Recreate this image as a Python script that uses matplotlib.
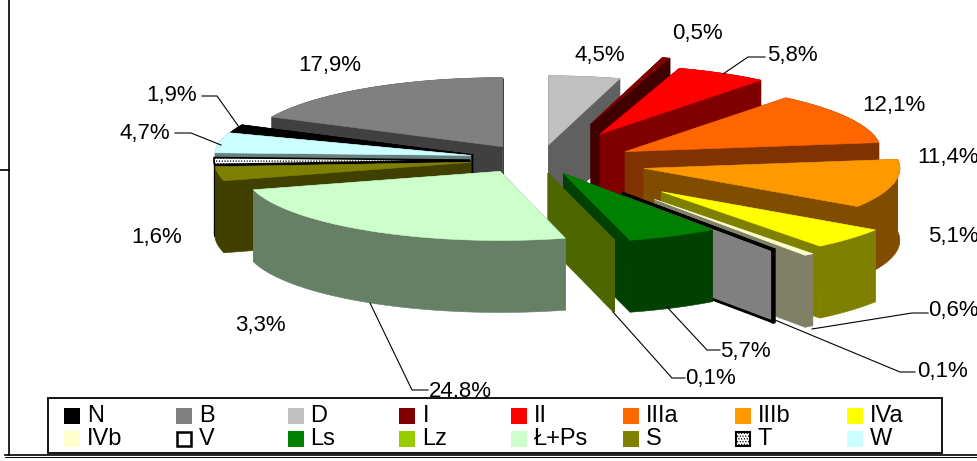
import numpy as np
import matplotlib
matplotlib.use("Agg")
import matplotlib.pyplot as plt
from matplotlib.patches import Polygon, Rectangle

plt.rcParams['font.family'] = ['Liberation Sans', 'DejaVu Sans']
plt.rcParams['hatch.linewidth'] = 0.6

# Data
names = ["N", "B", "D", "I", "II", "IIIa", "IIIb", "IVa",
         "IVb", "V", "Ls", "Lz", "Ł+Ps", "S", "T", "W"]
values = [1.9, 17.9, 4.5, 0.5, 5.8, 12.1, 11.4, 5.1,
          0.6, 0.1, 5.7, 0.1, 24.8, 3.3, 1.6, 4.7]

# Colours of the top and of the sides
top_colors = ["#000000", "#808080", "#C0C0C0", "#800000", "#FF0000", "#FF6600", "#FF9900", "#FFFF00",
              "#FFFFCC", "#FFFFFF", "#008000", "#99CC00", "#CCFFCC", "#808000", "#FFFFFF", "#CCFFFF"]
side_colors = ["#000000", "#404040", "#606060", "#400000", "#800000", "#803300", "#804D00", "#808000",
               "#808066", "#808080", "#004000", "#4D6600", "#668066", "#404000", "#000000", "#668080"]

# How far each slice is pulled out of the pie, px, plus a small correction
explode = [53, 36, 60, 190, 160, 116, 122, 190, 220, 177, 80, 85, 40, 52, 52, 52]
nudge_x = [0, 0, 18, 13, 2, 2, 3, 0, 0, -2, 7, 4, -2, 0, 0, 0]
nudge_y = [0, -5, 1, 13, 12, 7, 1, -3, -8, -5, -6, -9, 2, 0, 0, -2]

# Pie geometry (px)
cx, cy = 522, 160
radius = 256
squash = 0.27
depth = 72
first_angle = -sum(values[:2]) * 3.6

# back to front
draw_order = ["B", "N", "W", "T", "S", "D", "I", "II", "IIIa", "IIIb",
              "IVa", "IVb", "V", "Ls", "Lz", "Ł+Ps"]

# Data labels: text, centre of text, leader line
label_text = ["1,9%", "17,9%", "4,5%", "0,5%", "5,8%", "12,1%", "11,4%", "5,1%",
              "0,6%", "0,1%", "5,7%", "0,1%", "24,8%", "3,3%", "1,6%", "4,7%"]
label_x = [172, 330, 600, 697, 792, 894, 948, 953, 953, 942, 745, 710, 460, 260, 157, 145]
label_y = [95, 66, 56, 33, 56, 105, 157, 236, 310, 371, 351, 378, 391, 325, 237, 133]
leaders = [
    [(202, 96), (217, 96), (239, 127)],
    [(723, 74), (748, 57), (765, 57)],
    [(812, 329), (912, 313), (928, 313)],
    [(775, 320), (900, 372), (915, 372)],
    [(667, 307), (707, 350), (720, 350)],
    [(613, 312), (672, 378), (685, 378)],
    [(370, 303), (412, 390), (428, 390)],
    [(221, 145), (191, 133), (175, 133)],
]

fig = plt.figure(figsize=(9.78, 4.61), dpi=100)
ax = fig.add_axes([0, 0, 1, 1])
ax.set_xlim(0, 978)
ax.set_ylim(461, 0)
ax.axis('off')

# Outer chart frame
ax.plot([9, 9], [0, 455], color="black", lw=1.2, zorder=1)
ax.plot([5, 978], [455, 455], color="black", lw=1.2, zorder=1)
ax.plot([5, 978], [457, 457], color="black", lw=0.7, zorder=1)
ax.plot([0, 9], [170, 170], color="black", lw=1.2, zorder=1)


def point(t, dx, dy):
    a = np.radians(t)
    return cx + dx + radius * np.sin(a), cy + dy - radius * squash * np.cos(a)


def draw_slice(i, zorder):
    start = first_angle + sum(values[:i]) * 3.6
    end = start + values[i] * 3.6
    mid = np.radians((start + end) / 2)
    dx = explode[i] * np.sin(mid) + nudge_x[i]
    dy = -explode[i] * squash * np.cos(mid) + nudge_y[i]
    angles = np.linspace(start, end, 40)
    xs, ys = point(angles, dx, dy)
    ax_, ay_ = cx + dx, cy + dy
    top = list(zip(xs, ys)) + [(ax_, ay_)]

    # sides: outer arc and the two cut faces
    outer = list(zip(xs, ys)) + list(zip(xs[::-1], ys[::-1] + depth))
    cut1 = [(ax_, ay_), (xs[0], ys[0]), (xs[0], ys[0] + depth), (ax_, ay_ + depth)]
    cut2 = [(ax_, ay_), (xs[-1], ys[-1]), (xs[-1], ys[-1] + depth), (ax_, ay_ + depth)]
    for side in (cut1, cut2, outer):
        edge = "black" if names[i] == "V" else side_colors[i]
        lw = 2 if names[i] == "V" else 0.4
        ax.add_patch(Polygon(side, closed=True, facecolor=side_colors[i],
                             edgecolor=edge, lw=lw, zorder=zorder))

    if names[i] == "T":
        ax.add_patch(Polygon(top, closed=True, facecolor="white", edgecolor="black",
                             hatch="......", lw=1.2, zorder=zorder + 0.5))
    elif names[i] == "V":
        ax.add_patch(Polygon(top, closed=True, facecolor="white", edgecolor="black",
                             lw=2, zorder=zorder + 0.5))
    else:
        # the Lz sliver is too thin to show its own colour
        col = side_colors[i] if names[i] == "Lz" else top_colors[i]
        ax.add_patch(Polygon(top, closed=True, facecolor=col,
                             edgecolor=col, lw=0.4, zorder=zorder + 0.5))


for n, name in enumerate(draw_order):
    draw_slice(names.index(name), 2 + n)

# Labels
for line in leaders:
    ax.plot([p[0] for p in line], [p[1] for p in line], color="black", lw=0.8, zorder=30)
for t, x, y in zip(label_text, label_x, label_y):
    ax.text(x, y, t, fontsize=16, ha="center", va="center", zorder=31, clip_on=True)

# Legend
ax.add_patch(Rectangle((48, 398), 894, 55, facecolor="white", edgecolor="black", lw=1.3, zorder=40))
for i, name in enumerate(names):
    col = i % 8
    row = i // 8
    x = 64 + col * 111.8
    y = 416 + row * 23
    if name == "T":
        ax.add_patch(Rectangle((x + 1, y - 7), 14, 14, facecolor="white", edgecolor="black",
                               hatch="......", lw=1.5, zorder=41))
    elif name == "V":
        ax.add_patch(Rectangle((x + 1, y - 7), 14, 14, facecolor="white", edgecolor="black",
                               lw=1.8, zorder=41))
    else:
        ax.add_patch(Rectangle((x, y - 8), 16, 16, facecolor=top_colors[i], edgecolor="none", zorder=41))
    ax.text(x + 23, y, name, fontsize=17, ha="left", va="center", zorder=42)

fig.savefig("out.png", dpi=100)
